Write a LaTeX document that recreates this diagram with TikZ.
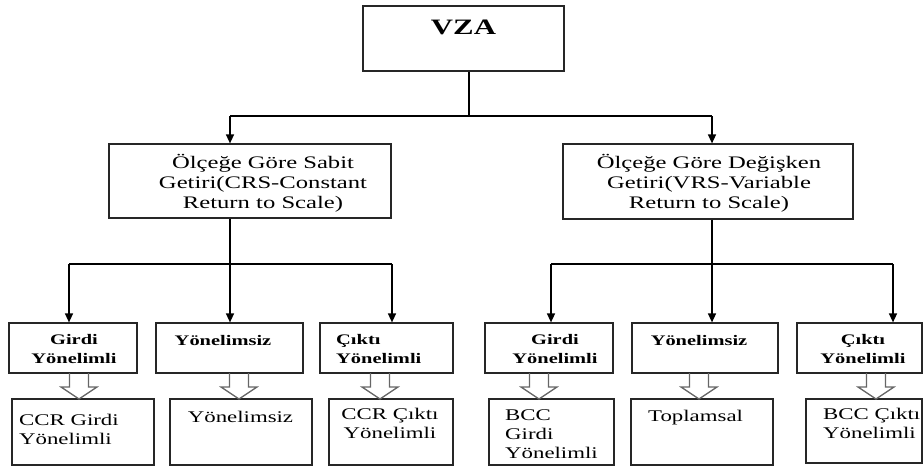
\documentclass[tikz,border=0pt]{standalone}
\usepackage{fontspec}
\setmainfont{Liberation Serif}[FakeStretch=1.4]
\usetikzlibrary{arrows.meta}
\newcommand\fvza{\fontsize{22}{26}\bfseries\selectfont}
\newcommand\fmid{\fontsize{17.6}{20}\selectfont}
\newcommand\fsmall{\fontsize{14.6}{18.5}\bfseries\selectfont}
\newcommand\fbot{\fontsize{16.3}{19}\selectfont}
\begin{document}
\begin{tikzpicture}[x=1pt,y=-1pt,
  box/.style={draw=black!85, line width=1.2pt, inner sep=0pt},
  txt/.style={inner sep=0pt, text=black},
  conn/.style={line width=1.4pt, black},
  arr/.style={conn, -{Triangle[width=8pt,length=9pt]}},
  hollow/.style={draw=black!60, line width=1.3pt, line join=miter},
  harrow/.pic={\draw[hollow] (-9.5,0) -- (-9.5,14) -- (-18,14) -- (0,26) -- (18,14) -- (9.5,14) -- (9.5,0);}
]
\useasboundingbox (0,0) rectangle (923,466);
% boxes
\node[box, minimum width=201pt, minimum height=65pt] (vza) at (463.5,38.5) {};
\node[box, minimum width=282pt, minimum height=74pt] (crs) at (250,181) {};
\node[box, minimum width=290pt, minimum height=75pt] (vrs) at (708,181.5) {};
\node[box, minimum width=128pt, minimum height=50pt] (t1) at (73,348) {};
\node[box, minimum width=147pt, minimum height=50pt] (t2) at (229.5,348) {};
\node[box, minimum width=133pt, minimum height=50pt] (t3) at (386.5,348) {};
\node[box, minimum width=128pt, minimum height=50pt] (t4) at (549,348) {};
\node[box, minimum width=146pt, minimum height=50pt] (t5) at (705,348) {};
\node[box, minimum width=125pt, minimum height=50pt] (t6) at (859.5,348) {};
\node[box, minimum width=142pt, minimum height=66pt] (b1) at (83,432) {};
\node[box, minimum width=142pt, minimum height=66pt] (b2) at (241,432) {};
\node[box, minimum width=124pt, minimum height=66pt] (b3) at (391,432) {};
\node[box, minimum width=125pt, minimum height=66pt] (b4) at (551.5,432) {};
\node[box, minimum width=142pt, minimum height=66pt] (b5) at (702,432) {};
\node[box, minimum width=116pt, minimum height=64pt] (b6) at (864,431) {};
% texts (anchor=base is the baseline of the last line)
\node[txt, anchor=base, font=\fvza] (vzat) at (463.5,34) {VZA};
\node[txt, anchor=base, align=center, font=\fmid] (crst) at (263,208) {Ölçeğe Göre Sabit\\Getiri(CRS-Constant\\Return to Scale)};
\node[txt, anchor=base, align=center, font=\fmid] (vrst) at (709,208) {Ölçeğe Göre Değişken\\Getiri(VRS-Variable\\Return to Scale)};
\node[txt, anchor=base, align=center, font=\fsmall] (t1t) at (74,363) {Girdi\\Yönelimli};
\node[txt, anchor=base, font=\fsmall] (t2t) at (223,345) {Yönelimsiz};
\node[txt, anchor=base west, align=left, font=\fsmall] (t3t) at (336,363) {Çıktı\\Yönelimli};
\node[txt, anchor=base, align=center, font=\fsmall] (t4t) at (555,363) {Girdi\\Yönelimli};
\node[txt, anchor=base, font=\fsmall] (t5t) at (699,345) {Yönelimsiz};
\node[txt, anchor=base, align=center, font=\fsmall] (t6t) at (863,363) {Çıktı\\Yönelimli};
\node[txt, anchor=base west, align=left, font=\fbot] (b1t) at (19,444) {CCR Girdi\\Yönelimli};
\node[txt, anchor=base, font=\fbot] (b2t) at (240.5,422) {Yönelimsiz};
\node[txt, anchor=base, align=center, font=\fbot] (b3t) at (390,438) {CCR Çıktı\\Yönelimli};
\node[txt, anchor=base west, align=left, font=\fbot] (b4t) at (505,458) {BCC\\Girdi\\Yönelimli};
\node[txt, anchor=base west, font=\fbot] (b5t) at (648,421) {Toplamsal};
\node[txt, anchor=base west, align=left, font=\fbot] (b6t) at (823,438) {BCC Çıktı\\Yönelimli};
% connectors top
\coordinate (j0) at (469,116);
\coordinate (jL) at (230,116);
\coordinate (jR) at (712,116);
\draw[conn] (vza.south -| j0) -- (j0);
\draw[conn] (jL) -- (jR);
\draw[arr] (jL) -- (jL |- crs.north);
\draw[arr] (jR) -- (jR |- vrs.north);
% connectors left
\coordinate (kL) at (230,264);
\coordinate (kL1) at (69,264);
\coordinate (kL3) at (392,264);
\draw[conn] (kL1) -- (kL3);
\draw[arr] (crs.south -| kL) -- (kL |- t2.north);
\draw[arr] (kL1) -- (kL1 |- t1.north);
\draw[arr] (kL3) -- (kL3 |- t3.north);
% connectors right
\coordinate (kR) at (712,264);
\coordinate (kR1) at (551,264);
\coordinate (kR3) at (893,264);
\draw[conn] (kR1) -- (kR3);
\draw[arr] (vrs.south -| kR) -- (kR |- t5.north);
\draw[arr] (kR1) -- (kR1 |- t4.north);
\draw[arr] (kR3) -- (kR3 |- t6.north);
% hollow arrows
\pic at (79,373) {harrow};
\pic at (239,373) {harrow};
\pic at (380,373) {harrow};
\pic at (539,373) {harrow};
\pic at (699,373) {harrow};
\pic at (876,373) {harrow};
\end{tikzpicture}
\end{document}
